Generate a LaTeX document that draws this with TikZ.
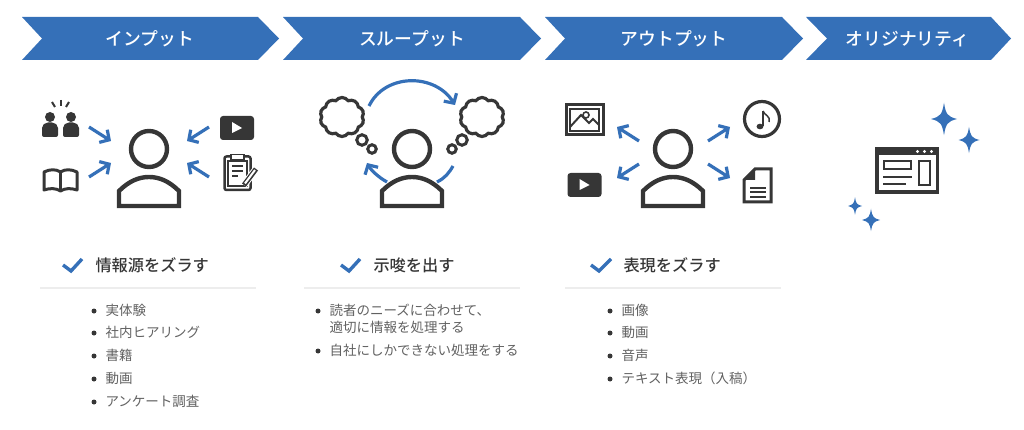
\documentclass[tikz,border=0pt]{standalone}
\usepackage{fontspec}
\setmainfont{Noto Sans CJK JP}
\newfontfamily\jpmedium{Noto Sans CJK JP Medium}
\usetikzlibrary{arrows.meta,shapes.symbols}
\definecolor{bandblue}{HTML}{3570B8}
\definecolor{icongray}{HTML}{363636}
\begin{document}
\begin{tikzpicture}[x=1pt,y=-1pt,line width=1pt]
\tikzset{
  band/.style={fill=bandblue},
  bandtext/.style={font=\fontsize{17.8}{17.8}\selectfont\jpmedium,text=white,inner sep=0pt,yshift=-0.6pt},
  flow/.style={draw=bandblue,line width=3.2pt,-{Straight Barb[length=7pt,width=15pt,line width=3.2pt]}},
  arcline/.style={draw=bandblue,line width=3.2pt},
  icon/.style={draw=icongray,line width=2.5pt},
  iconfill/.style={fill=icongray},
  thought/.style={circle,draw=icongray,line width=3pt,fill=white,inner sep=0pt},
  cloudy/.style={cloud,cloud puffs=10,cloud puff arc=110,draw=icongray,line width=3.2pt,aspect=1.1,inner sep=0pt,minimum width=44pt,minimum height=39pt},
  head/.style={font=\fontsize{16.2}{16.2}\selectfont\jpmedium,text=icongray,anchor=west,inner sep=0pt},
  item/.style={font=\fontsize{13.5}{13.5}\selectfont,text=black!62,anchor=west,inner sep=0pt,yshift=0.7pt},
  dot/.style={circle,fill=icongray,inner sep=0pt,minimum size=5pt},
  rulerline/.style={draw=black!7,line width=2pt},
  tick/.style={draw=bandblue,line width=3.4pt,line join=miter},
  person/.pic={
    \draw[icongray,line width=4.4pt] (0,0) circle (18);
    \draw[icongray,line width=4.4pt,line join=miter] (-30,57)--(-30,42) .. controls (-20,32) and (-10,28) .. (0,28) .. controls (10,28) and (20,32) .. (30,42)--(30,57)--cycle;
  },
  play/.pic={
    \fill[icongray,rounded corners=3pt] (-17,-12) rectangle (17,12);
    \fill[white] (-5,-6)--(-5,5)--(5,0)--cycle;
  },
  sparkle/.pic={
    \fill[bandblue] (0,-1.25) .. controls (0.15,-0.35) and (0.25,-0.2) .. (1,0) .. controls (0.25,0.2) and (0.15,0.35) .. (0,1.25) .. controls (-0.15,0.35) and (-0.25,0.2) .. (-1,0) .. controls (-0.25,-0.2) and (-0.15,-0.35) .. (0,-1.25)--cycle;
  },
}
\useasboundingbox (0,0) rectangle (1024,430);

% ---------- banners ----------
\fill[band] (22,17)--(258,17)--(279,38.5)--(258,60)--(22,60)--(42,38.5)--cycle;
\fill[band] (283,17)--(520,17)--(541,38.5)--(520,60)--(283,60)--(303,38.5)--cycle;
\fill[band] (545,17)--(782,17)--(803,38.5)--(782,60)--(545,60)--(565,38.5)--cycle;
\fill[band] (806,17)--(991,17)--(1011,38.5)--(991,60)--(806,60)--(827,38.5)--cycle;
\node[bandtext] (B1) at (150,38) {インプット};
\node[bandtext] (B2) at (412,38) {スループット};
\node[bandtext] (B3) at (674,38) {アウトプット};
\node[bandtext] (B4) at (907.5,38) {オリジナリティ};

% ---------- input ----------
\pic at (149,149) {person};

\coordinate (A1) at (89,127);
\coordinate (A2) at (111,141);
\coordinate (A3) at (89,177);
\coordinate (A4) at (111,163);
\coordinate (A5) at (209,127);
\coordinate (A6) at (187,141);
\coordinate (A7) at (209,177);
\coordinate (A8) at (187,163);
\draw[flow] (A1)--(A2);
\draw[flow] (A3)--(A4);
\draw[flow] (A5)--(A6);
\draw[flow] (A7)--(A8);

% people
\draw[icongray,line width=2pt] (52,102)--(55,107);
\draw[icongray,line width=2pt] (60.5,100)--(60.5,106);
\draw[icongray,line width=2pt] (69,102)--(66,107);
\fill[icongray] (50,117) circle (5);
\fill[icongray] (71,117) circle (5);
\fill[icongray,rounded corners=2pt] (42,137)--(42,126)--(46,122.5)--(54,122.5)--(58,126)--(58,137)--cycle;
\fill[icongray,rounded corners=2pt] (63,137)--(63,126)--(67,122.5)--(75,122.5)--(79,126)--(79,137)--cycle;

% book
\draw[icon,line width=3pt,line join=round] (44,190)--(44,172) .. controls (50,169) and (56,169) .. (60.5,172) .. controls (65,169) and (71,169) .. (77,172)--(77,190) .. controls (71,188) and (65,188) .. (60.5,191) .. controls (56,188) and (50,188) .. (44,190)--cycle;
\draw[icon] (60.5,172)--(60.5,191);

% video and clipboard
\pic at (237,128) {play};
\draw[icon,rounded corners=2pt] (224.5,156.5) rectangle (250.5,190);
\draw[icongray,line width=1.5pt] (228,161) rectangle (247,186);
\fill[white] (231,154) rectangle (244,160);
\draw[icongray,line width=1.2pt] (231,154.5) rectangle (244,160);
\draw[icongray,line width=1.8pt] (232,166)--(243,166);
\draw[icongray,line width=1.8pt] (232,171)--(243,171);
\draw[icongray,line width=1.8pt] (232,176)--(238,176);
\draw[white,line width=7pt] (256,169)--(244,185);
\draw[icongray,line width=5pt] (256,169)--(244,185);
\draw[white,line width=2pt] (255,170)--(245,183.5);

% ---------- through ----------
\pic at (412,149) {person};

\coordinate (C1) at (369,106);
\coordinate (C2) at (455,105);
\coordinate (C3) at (387,182);
\coordinate (C4) at (367,163);
\coordinate (C5) at (437,182);
\coordinate (C6) at (453,166);
\draw[flow] (C1) .. controls (385,73) and (435,73) .. (C2);
\draw[flow] (C3) .. controls (378,177) and (371,170) .. (C4);
\draw[arcline] (C5) .. controls (445,178) and (449,173) .. (C6);

\node[cloudy] (L1) at (342,117) {};
\node[cloudy] (R1) at (482,117) {};
\node[thought,minimum size=10.5pt] (L2) at (362,140) {};
\node[thought,minimum size=8.5pt] (L3) at (372,149) {};
\node[thought,minimum size=10.5pt] (R2) at (462,140) {};
\node[thought,minimum size=8.5pt] (R3) at (452,149) {};

% ---------- output ----------
\pic at (673,149) {person};

\coordinate (D1) at (639,141);
\coordinate (D2) at (617,127);
\coordinate (D3) at (639,164);
\coordinate (D4) at (617,178);
\coordinate (D5) at (708,141);
\coordinate (D6) at (730,127);
\coordinate (D7) at (708,164);
\coordinate (D8) at (730,178);
\draw[flow] (D1)--(D2);
\draw[flow] (D3)--(D4);
\draw[flow] (D5)--(D6);
\draw[flow] (D7)--(D8);

% image
\draw[icon,line width=3pt] (566,105) rectangle (603,135);
\draw[icongray,line width=1.5pt] (570,109) rectangle (599,131);
\draw[icongray,line width=2pt] (570,127)--(581,115)--(589,123)--(593,119)--(599,125);
\draw[icongray,line width=1.6pt] (586,115) circle (3);

% note
\draw[icongray,line width=3.2pt] (762,119) circle (17.5);
\fill[icongray] (760,126.5) ellipse (3.4 and 2.8);
\draw[icongray,line width=1.5pt] (763,126)--(763,111);
\draw[icongray,line width=1.5pt] (763,111) .. controls (764,115) and (771,116) .. (769,122);

% video and document
\pic at (584.5,185) {play};
\draw[icon,line width=3pt,line join=miter] (755,169)--(771,169)--(771,202)--(744,202)--(744,180)--cycle;
\fill[icongray] (744,180)--(755,180)--(755,169)--cycle;
\draw[icongray,line width=2pt] (750,188)--(766,188);
\draw[icongray,line width=2pt] (750,192.5)--(766,192.5);
\draw[icongray,line width=2pt] (750,197)--(766,197);

% ---------- original ----------
\fill[icongray] (875,147) rectangle (939,194);
\fill[white] (878.5,155.5) rectangle (935.5,190);
\fill[white] (917.5,151.5) circle (1.7);
\fill[white] (924.5,151.5) circle (1.7);
\fill[white] (931.5,151.5) circle (1.7);
\draw[icongray,line width=2.8pt] (884,161) rectangle (911,169);
\draw[icongray,line width=2.8pt] (919,161) rectangle (930,185);
\draw[icongray,line width=2.8pt] (883,177)--(912,177);
\draw[icongray,line width=2.8pt] (883,184)--(906,184);

\pic[scale=13] at (944,119) {sparkle};
\pic[scale=10.5] at (969,140) {sparkle};
\pic[scale=7] at (855,206) {sparkle};
\pic[scale=9] at (871,220) {sparkle};

% ---------- first list ----------
\coordinate (E1) at (63,265);
\coordinate (E2) at (71,271);
\coordinate (E3) at (82,259);
\draw[tick] (E1)--(E2)--(E3);
\node[head] (H1) at (95,265) {情報源をズラす};
\coordinate (F1) at (40,288);
\coordinate (F2) at (256,288);
\draw[rulerline] (F1)--(F2);

\node[dot] at (94,311) {};
\node[dot] at (94,333) {};
\node[dot] at (94,356) {};
\node[dot] at (94,379) {};
\node[dot] at (94,402) {};
\node[item] at (105,311) {実体験};
\node[item] at (105,333) {社内ヒアリング};
\node[item] at (105,356) {書籍};
\node[item] at (105,379) {動画};
\node[item] at (105,402) {アンケート調査};

% ---------- second list ----------
\coordinate (E4) at (341,265);
\coordinate (E5) at (349,271);
\coordinate (E6) at (360,259);
\draw[tick] (E4)--(E5)--(E6);
\node[head] (H2) at (373,265) {示唆を出す};
\coordinate (F3) at (304,288);
\coordinate (F4) at (520,288);
\draw[rulerline] (F3)--(F4);

\node[dot] at (318,311) {};
\node[dot] at (318,351) {};
\node[item] at (329,311) {読者のニーズに合わせて、};
\node[item] at (329,328) {適切に情報を処理する};
\node[item] at (329,351) {自社にしかできない処理をする};

% ---------- third list ----------
\coordinate (E7) at (591,265);
\coordinate (E8) at (599,271);
\coordinate (E9) at (611,259);
\draw[tick] (E7)--(E8)--(E9);
\node[head] (H3) at (623,265) {表現をズラす};
\coordinate (F5) at (565,288);
\coordinate (F6) at (781,288);
\draw[rulerline] (F5)--(F6);

\node[dot] at (610,311) {};
\node[dot] at (610,333) {};
\node[dot] at (610,356) {};
\node[dot] at (610,379) {};
\node[item] at (621,311) {画像};
\node[item] at (621,333) {動画};
\node[item] at (621,356) {音声};
\node[item] at (621,379) {テキスト表現（入稿）};

\end{tikzpicture}
\end{document}
